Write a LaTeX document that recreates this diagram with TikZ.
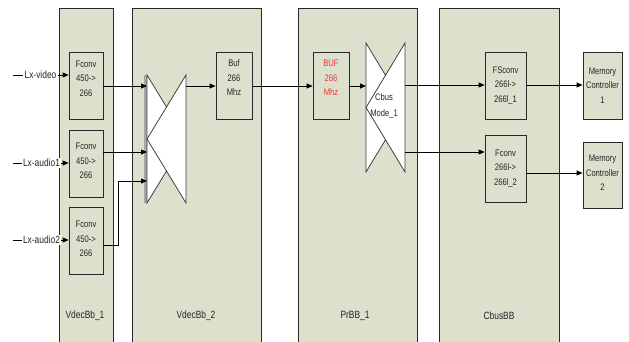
\documentclass[tikz,border=0pt]{standalone}
\usepackage{fontspec}
\setmainfont{Liberation Sans}
\newfontfamily\narrow{Liberation Sans}[FakeStretch=0.8]
\usetikzlibrary{arrows.meta}
\definecolor{panelc}{RGB}{221,224,204}
\definecolor{edgec}{RGB}{40,40,40}
\definecolor{redt}{RGB}{240,50,50}
\begin{document}
\begin{tikzpicture}[x=1pt,y=-1pt,
  panel/.style={draw=edgec, fill=panelc, line width=0.8pt, inner sep=0pt, anchor=north west, minimum height=345pt},
  box/.style={draw=edgec, fill=panelc, line width=0.8pt, inner sep=0pt},
  txt/.style={font=\narrow\fontsize{9.5}{14.5}\selectfont, align=center, text=black!85, inner sep=0pt, anchor=center},
  redtxt/.style={txt, text=redt},
  plabel/.style={font=\narrow\fontsize{10.5}{12}\selectfont, text=black!85, inner sep=0pt},
  port/.style={font=\narrow\fontsize{10.5}{12}\selectfont, text=black!85, fill=white, inner sep=1pt},
  conn/.style={draw=black, line width=0.8pt},
  arr/.style={conn, -{Triangle[length=6pt,width=5pt]}},
  mux/.style={draw=black!75, fill=white, line width=0.8pt, line join=miter},
  muxline/.style={draw=black!75, line width=0.8pt}
]
\useasboundingbox (0,0) rectangle (629,341);
\clip (0,0) rectangle (629,341);
\fill[white] (0,0) rectangle (629,341);

% panels
\node[panel, minimum width=54pt] (pA) at (59,8) {};
\node[panel, minimum width=129pt] (pB) at (132,8) {};
\node[panel, minimum width=119pt] (pC) at (298,8) {};
\node[panel, minimum width=120pt] (pD) at (439,8) {};
\node[plabel] (lA) at (85,316) {VdecBb\_1};
\node[plabel] (lB) at (196,316) {VdecBb\_2};
\node[plabel] (lC) at (355,316) {PrBB\_1};
\node[plabel] (lD) at (499,316) {CbusBB};

% boxes
\node[box, minimum width=34pt, minimum height=67pt,
  label={[txt, yshift=7pt]center:{Fconv\\450->\\266}}] (f1) at (86,85.5) {};
\node[box, minimum width=34pt, minimum height=67pt,
  label={[txt, yshift=2.5pt]center:{Fconv\\450->\\266}}] (f2) at (86,163.5) {};
\node[box, minimum width=34pt, minimum height=67pt,
  label={[txt, yshift=1.5pt]center:{Fconv\\450->\\266}}] (f3) at (86,240.5) {};
\node[box, minimum width=36pt, minimum height=67pt,
  label={[txt, yshift=7.5pt]center:{Buf\\266\\Mhz}}] (buf) at (234,85.5) {};
\node[box, minimum width=36pt, minimum height=67pt,
  label={[redtxt, yshift=7.5pt]center:{BUF\\266\\Mhz}}] (bufr) at (331,85.5) {};
\node[box, minimum width=41pt, minimum height=67pt,
  label={[txt]center:{FSconv\\266l->\\266l\_1}}] (fs1) at (505.5,85.5) {};
\node[box, minimum width=41pt, minimum height=67pt,
  label={[txt]center:{Fconv\\266l->\\266l\_2}}] (fs2) at (505.5,168.5) {};
\node[box, minimum width=39pt, minimum height=67pt,
  label={[txt]center:{Memory\\Controller\\1}}] (mc1) at (602.5,85.5) {};
\node[box, minimum width=39pt, minimum height=66pt,
  label={[txt, yshift=2pt]center:{Memory\\Controller\\2}}] (mc2) at (602.5,175) {};

% mux 1
\coordinate (m1tl) at (147,75);
\coordinate (m1tr) at (186,75);
\coordinate (m1br) at (186,203);
\coordinate (m1bl) at (147,203);
\coordinate (m1lm) at (147,139);
\coordinate (m1c1) at (166.5,107);
\coordinate (m1c2) at (166.5,171);
\fill[black!35] (144.3,75) rectangle (147,203);
\draw[mux] (m1tl) -- (m1c1) -- (m1tr) -- (m1br) -- (m1c2) -- (m1bl) -- cycle;
\draw[muxline] (m1c1) -- (m1lm) -- (m1c2);

% mux 2
\coordinate (m2tl) at (366,43);
\coordinate (m2tr) at (405,43);
\coordinate (m2br) at (405,172);
\coordinate (m2bl) at (366,172);
\coordinate (m2lm) at (366,107.5);
\coordinate (m2c1) at (385.5,75.25);
\coordinate (m2c2) at (385.5,139.75);
\draw[mux] (m2tl) -- (m2c1) -- (m2tr) -- (m2br) -- (m2c2) -- (m2bl) -- cycle;
\draw[muxline] (m2c1) -- (m2lm) -- (m2c2);
\node[txt, font=\narrow\fontsize{9.5}{16}\selectfont] (m2txt) at (384,106) {Cbus\\Mode\_1};

% input ports
\coordinate (s1) at (13,75);
\coordinate (s2) at (13,163);
\coordinate (s3) at (13,240);
\node[port] (p1) at (40.5,75) {Lx-video};
\node[port] (p2) at (41.5,163) {Lx-audio1};
\node[port] (p3) at (41.5,240) {Lx-audio2};
\draw[conn] (s1) -- (p1.west);
\draw[conn] (s2) -- (p2.west);
\draw[conn] (s3) -- (p3.west);
\draw[arr] (p1.east) -- (p1.east -| f1.west);
\draw[arr] (p2.east) -- (p2.east -| f2.west);
\draw[arr] (p3.east) -- (p3.east -| f3.west);

% connectors
\draw[arr] (f1.east |- 0,86) -- (m1tl |- 0,86);
\draw[arr] (f2.east |- 0,152) -- (m1tl |- 0,152);
\coordinate (j3a) at (118,245);
\coordinate (j3b) at (118,181);
\draw[arr] (f3.east |- j3a) -- (j3a) -- (j3b) -- (m1bl |- j3b);
\draw[arr] (m1tr |- 0,86) -- (buf.west |- 0,86);
\draw[arr] (buf.east |- 0,86) -- (bufr.west |- 0,86);
\draw[arr] (bufr.east |- 0,86) -- (m2tl |- 0,86);
\draw[arr] (m2tr |- 0,85) -- (fs1.west |- 0,85);
\draw[arr] (m2br |- 0,152) -- (fs2.west |- 0,152);
\draw[arr] (fs1.east |- 0,85) -- (mc1.west |- 0,85);
\draw[arr] (fs2.east |- 0,173) -- (mc2.west |- 0,173);
\end{tikzpicture}
\end{document}
